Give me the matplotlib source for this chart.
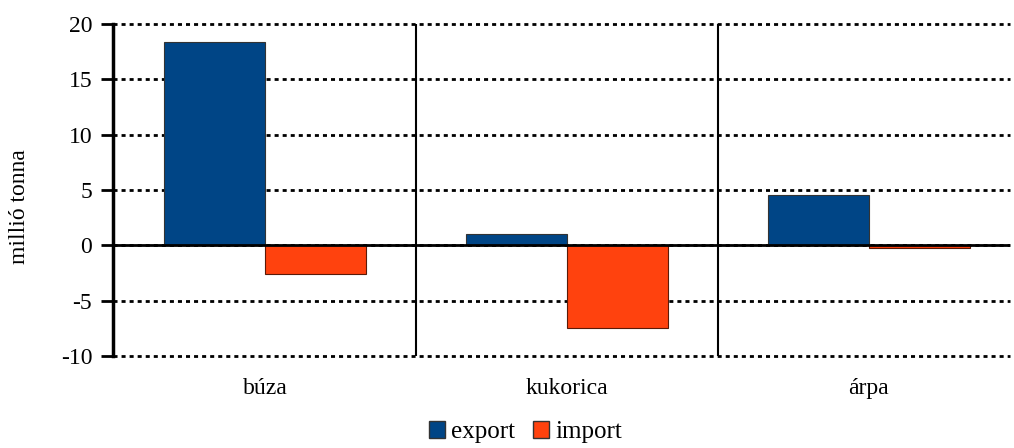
import numpy as np
import matplotlib.pyplot as plt
from matplotlib.patches import Patch

categories = ["búza", "kukorica", "árpa"]
export_vals = [18.4, 1.05, 4.6]
import_vals = [-2.6, -7.5, -0.25]

plt.rcParams['font.family'] = ['Liberation Serif', 'DejaVu Serif']
plt.rcParams['axes.unicode_minus'] = False

fig = plt.figure(figsize=(10.14, 4.48), dpi=100)
ax = fig.add_axes([0.1114, 0.2054, 0.885, 0.7406])

x = np.arange(len(categories))
w = 0.335
ax.bar(x - w / 2, export_vals, w, color="#004586", edgecolor="#333333", linewidth=0.8, zorder=3)
ax.bar(x + w / 2, import_vals, w, color="#ff420e", edgecolor="#5a1a08", linewidth=0.8, zorder=3)

ax.set_xlim(-0.505, 2.47)
ax.set_ylim(-10, 20)
ax.set_yticks(np.arange(-10, 21, 5))
ax.yaxis.grid(True, color="black", linestyle=(0, (1.45, 1.45)), linewidth=2)
for gl in ax.get_ygridlines():
    gl.set_clip_on(False)
ax.set_axisbelow(True)
ax.axhline(0, color="black", linewidth=2, zorder=4)
for b in [0.5, 1.5]:
    ax.axvline(b, color="black", linewidth=1.5, zorder=2)

ax.set_xticks(x)
ax.set_xticklabels(categories, fontsize=17)
ax.tick_params(axis="x", length=0, pad=16)
ax.tick_params(axis="y", labelsize=17, length=9, width=2, direction="out", pad=6)
for s in ["top", "right", "bottom"]:
    ax.spines[s].set_visible(False)
ax.spines["left"].set_linewidth(2.5)
ax.set_ylabel("millió tonna", fontsize=17)
ax.yaxis.set_label_coords(-0.093, 0.45)

handles = [Patch(facecolor="#004586", edgecolor="#333333", label="export"),
           Patch(facecolor="#ff420e", edgecolor="#333333", label="import")]
fig.legend(handles=handles, loc="lower center", bbox_to_anchor=(0.518, -0.04), ncol=2,
           frameon=False, fontsize=18, handlelength=0.65, handleheight=0.65,
           handletextpad=0.25, columnspacing=0.7)

fig.savefig("out.png", dpi=100)
